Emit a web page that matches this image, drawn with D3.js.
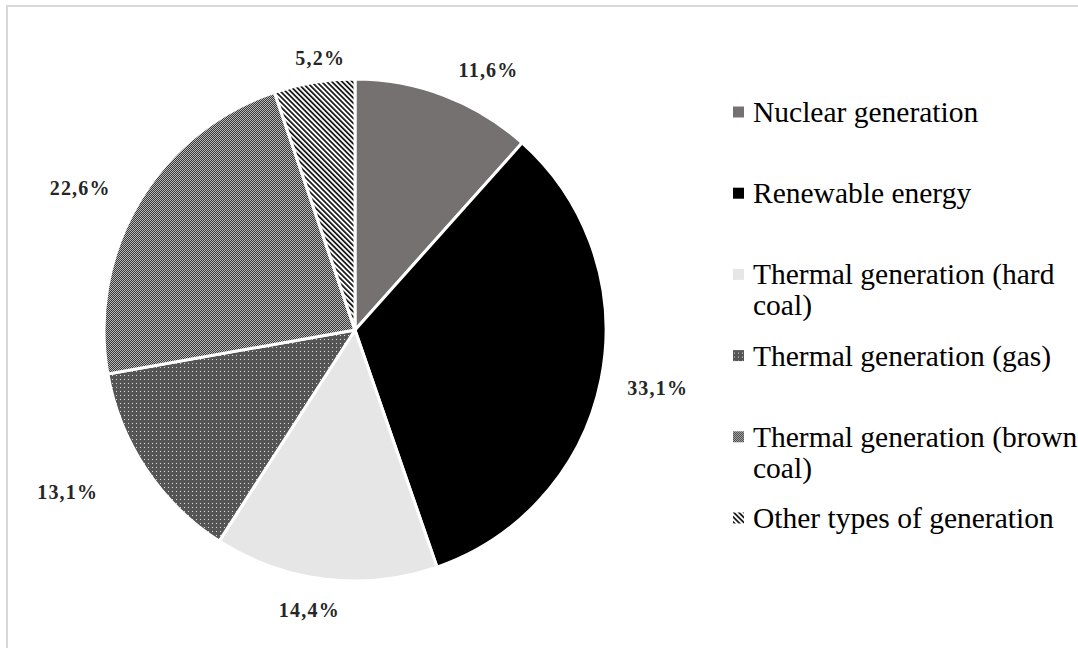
<!DOCTYPE html>
<html>
<head>
<meta charset="utf-8">
<script src="https://cdn.jsdelivr.net/npm/d3@7"></script>
<style>
  html, body { margin: 0; padding: 0; background: #fff; }
  svg { display: block; }
</style>
</head>
<body>
<svg id="chart" width="1078" height="648"></svg>
<script>
// Electricity generation structure, shares in percent
const categories = [
  "Nuclear generation",
  "Renewable energy",
  "Thermal generation (hard coal)",
  "Thermal generation (gas)",
  "Thermal generation (brown coal)",
  "Other types of generation"
];
const shares = [11.6, 33.1, 14.4, 13.1, 22.6, 5.2];
const valueLabels = ["11,6%", "33,1%", "14,4%", "13,1%", "22,6%", "5,2%"];
// Legend text broken into lines as laid out in the legend box
const legendLines = [
  ["Nuclear generation"],
  ["Renewable energy"],
  ["Thermal generation (hard", "coal)"],
  ["Thermal generation (gas)"],
  ["Thermal generation (brown", "coal)"],
  ["Other types of generation"]
];

// Layout
const W = 1078, H = 648;
const cx = 355, cy = 330, R = 251;
// per-label nudges (dx, dy) applied after the outside-end placement
const labelNudge = [[27, -1], [9, 4], [-10, 5], [-38, 8], [-17, -1], [13, 1]];

const svg = d3.select("#chart");
const defs = svg.append("defs");

// Fill patterns
const pGas = defs.append("pattern").attr("id", "pat-gas")
  .attr("patternUnits", "userSpaceOnUse").attr("width", 4).attr("height", 4);
pGas.append("rect").attr("width", 4).attr("height", 4).attr("fill", "#555555");
pGas.append("rect").attr("x", 1).attr("y", 1).attr("width", 1).attr("height", 1).attr("fill", "#dcdcdc");

const pBrown = defs.append("pattern").attr("id", "pat-brown")
  .attr("patternUnits", "userSpaceOnUse").attr("width", 2).attr("height", 2);
pBrown.append("rect").attr("width", 2).attr("height", 2).attr("fill", "#b8b8b8");
pBrown.append("rect").attr("x", 0).attr("y", 0).attr("width", 1).attr("height", 1).attr("fill", "#383838");
pBrown.append("rect").attr("x", 1).attr("y", 1).attr("width", 1).attr("height", 1).attr("fill", "#383838");

const pOther = defs.append("pattern").attr("id", "pat-other")
  .attr("patternUnits", "userSpaceOnUse").attr("width", 3.6).attr("height", 3.6)
  .attr("patternTransform", "rotate(-45)");
pOther.append("rect").attr("width", 3.6).attr("height", 3.6).attr("fill", "#ffffff");
pOther.append("rect").attr("x", 0).attr("y", 0).attr("width", 1.7).attr("height", 3.6).attr("fill", "#111111");

const fills = ["#767171", "#000000", "#e7e6e6", "url(#pat-gas)", "url(#pat-brown)", "url(#pat-other)"];
const color = d3.scaleOrdinal().domain(categories).range(fills);

// Chart area frame
svg.append("rect")
  .attr("x", 7).attr("y", 6).attr("width", W + 20).attr("height", H + 20)
  .attr("fill", "none").attr("stroke", "#d9d9d9").attr("stroke-width", 2);

// Pie
const data = categories.map((c, i) => ({ cat: c, value: shares[i], label: valueLabels[i], i }));
const pie = d3.pie().value(d => d.value).sort(null);
const arcs = pie(data);
const arc = d3.arc().innerRadius(0).outerRadius(R);

const g = svg.append("g").attr("transform", `translate(${cx},${cy})`);
g.selectAll("path.slice")
  .data(arcs)
  .join("path")
  .attr("class", "slice")
  .attr("d", arc)
  .attr("fill", d => color(d.data.cat))
  .attr("stroke", "#ffffff")
  .attr("stroke-width", 3)
  .attr("stroke-linejoin", "round");

// Value labels placed outside the slice ends
const labelFontSize = 20;
g.selectAll("text.val")
  .data(arcs)
  .join("text")
  .attr("class", "val")
  .attr("font-family", "'Liberation Serif', 'Times New Roman', serif")
  .attr("font-size", labelFontSize)
  .attr("font-weight", "bold")
  .attr("letter-spacing", 1.2)
  .attr("fill", "#262626")
  .attr("text-anchor", "middle")
  .attr("dominant-baseline", "central")
  .text(d => d.data.label)
  .each(function (d) {
    const a = (d.startAngle + d.endAngle) / 2;
    const s = Math.sin(a), c = -Math.cos(a);
    const w = this.getComputedTextLength();
    const rr = R + 14;
    const x = rr * s + s * (w / 2 + 4) + labelNudge[d.data.i][0];
    const y = rr * c + c * (labelFontSize * 0.4 + 4) + labelNudge[d.data.i][1];
    d3.select(this).attr("x", x).attr("y", y);
  });

// Legend
const legendX = 733, legendTop = 112, legendStep = 81.2, lineH = 31;
const leg = svg.append("g")
  .attr("font-family", "'Liberation Serif', 'Times New Roman', serif")
  .attr("font-size", 29.5)
  .attr("fill", "#000");

const items = leg.selectAll("g.item")
  .data(data)
  .join("g")
  .attr("class", "item")
  .attr("transform", (d, i) => `translate(${legendX},${legendTop + i * legendStep})`);

items.append("rect")
  .attr("x", 0).attr("y", -5.5)
  .attr("width", 11).attr("height", 11)
  .attr("fill", d => color(d.cat));

items.append("text")
  .attr("x", 20)
  .attr("y", 10)
  .selectAll("tspan")
  .data((d, i) => legendLines[i])
  .join("tspan")
  .attr("x", 20)
  .attr("dy", (t, j) => j === 0 ? 0 : lineH)
  .text(t => t);
</script>
</body>
</html>
